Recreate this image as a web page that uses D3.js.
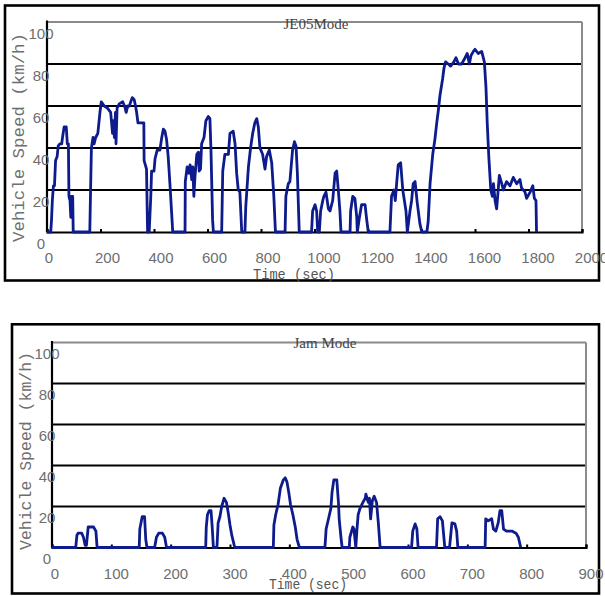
<!DOCTYPE html>
<html>
<head>
<meta charset="utf-8">
<script src="https://cdn.jsdelivr.net/npm/d3@7"></script>
<style>
  html, body { margin: 0; padding: 0; background: #fff; }
  svg { display: block; }
</style>
</head>
<body>
<script>
// ---------------- DATA ----------------
const speedTicks = [0, 20, 40, 60, 80, 100];
const je05TimeTicks = [0, 200, 400, 600, 800, 1000, 1200, 1400, 1600, 1800, 2000];
const jamTimeTicks = [0, 100, 200, 300, 400, 500, 600, 700, 800, 900];

// JE05 mode: time (s) and speed (km/h)
const je05Time = [0,14,17,20,24,28,32,38,42,48,55,58,64,72,76,80,82,86,89,91,96,98,
  160,162,166,172,176,182,190,198,203,214,226,238,245,248,252,256,258,262,270,283,290,296,302,308,313,319,326,331,335,340,357,362,363,372,376,
  382,388,391,400,404,412,422,429,435,441,447,453,460,466,470,
  516,517,524,530,535,541,545,549,553,560,566,569,574,578,587,594,603,609,613,619,622,
  653,657,665,678,684,696,703,709,715,721,728,
  740,743,753,761,769,777,784,790,796,806,815,821,831,840,848,854,
  890,893,902,908,918,925,931,936,943,
  989,993,1002,1008,1012,1018,1023,1031,1035,1043,1052,1058,1068,1077,1083,1089,1095,1099,
  1133,1135,1143,1151,1158,1160,1168,1176,1189,1195,1201,
  1282,1288,1297,1302,1307,1313,1322,1330,1342,1347,1357,1363,1369,1376,1384,1394,1401,
  1420,1425,1432,1442,1450,1457,1463,1469,1479,1484,1490,1500,1509,1521,1529,1538,1550,1563,1571,1579,1585,1594,1600,1612,1625,1635,1641,1646,1652,1659,1665,1669,1675,1681,1691,1700,1706,1718,1731,1743,1756,1768,1774,1787,1793,1806,1816,1822,1828,1830];
const je05Speed = [0,0,6,15,22,22,34,36,41,42,42,45,50,50,42,42,17,15,7,17,17,0,
  0,14,40,45,42,45,47,57,62,60,59,57,47,53,45,57,42,59,61,62,60,57,60,60,62,64,63,60,57,52,52,52,34,30,0,
  0,17,29,29,35,39,39,45,49,48,44,36,22,9,0,
  0,24,31,28,32,25,31,17,26,37,38,29,30,42,45,53,55,54,39,6,0,
  0,29,37,37,47,48,42,28,20,19,0,
  0,12,31,40,47,52,54,50,40,37,30,36,39,33,17,0,
  0,17,23,24,39,43,41,28,0,
  0,10,13,10,0,0,10,15,17,19,11,10,15,28,29,20,10,0,
  0,10,17,16,7,0,7,13,13,6,0,
  0,17,20,15,23,32,33,20,10,0,10,15,23,24,14,4,0,
  0,5,23,37,44,52,58,65,73,78,81,80,79,81,83,80,80,83,85,80,84,86,87,85,86,81,69,51,35,20,17,23,15,11,27,23,20,24,22,26,23,25,21,19,16,19,22,16,15,0];

// Jam mode: time (s) and speed (km/h)
const jamTime = [0,40,42,44,50,53,56,58,61,70,74,76,
  147,148,152,156,158,160,
  173,176,180,186,190,193,
  259,260,262,265,268,270,272,
  278,280,283,286,290,294,297,300,303,308,
  373,374,377,381,385,390,393,396,399,402,406,410,413,417,
  460,462,466,470,472,475,480,483,484,487,489,
  501,502,507,509,511,512,514,516,519,524,528,529,533,535,537,540,543,547,550,553,
  606,608,612,615,617,
  648,650,654,658,662,
  670,674,679,682,684,
  730,731,735,741,744,748,752,755,758,761,766,775,782,786,790];
const jamSpeed = [0,0,6,7,7,5,1,1,10,10,8,0,
  0,9,15,15,4,0,
  0,5,7,7,5,0,
  0,10,16,18,18,10,0,
  0,12,15,20,24,22,17,11,6,0,
  0,11,16,21,29,33,34,32,27,21,16,10,4,0,
  0,9,14,19,27,33,33,21,14,5,0,
  0,5,10,9,3,0,9,16,19,22,24,26,22,24,14,23,25,22,12,0,
  0,8,11.5,9,0,
  0,14,15,13,0,
  0,12,11.5,8,0,
  0,14,13,14,9,8,12,18,18,9,8,8,7,5,0];

// ---------------- DRAWING ----------------
const W = 605, H = 596;
const svg = d3.select("body").append("svg").attr("width", W).attr("height", H);

const lineColor = "#0d1b8c";
const tickFont = "'Liberation Sans', Arial, sans-serif";
const monoFont = "'Liberation Mono', 'DejaVu Sans Mono', monospace";
const serifFont = "'Liberation Serif', 'Times New Roman', serif";

function drawPanel(p) {
  const g = svg.append("g");
  // outer frame
  g.append("rect")
    .attr("x", p.frame[0]).attr("y", p.frame[1])
    .attr("width", p.frame[2] - p.frame[0]).attr("height", p.frame[3] - p.frame[1])
    .attr("fill", "none").attr("stroke", "#000").attr("stroke-width", 2.6);

  const x = d3.scaleLinear().domain([0, p.xMax]).range([p.left, p.right]);
  const y = d3.scaleLinear().domain([0, 100]).range([p.bottom, p.top]);

  // horizontal gridlines
  g.selectAll(".grid").data(speedTicks.filter(d => d > 0)).enter().append("line")
    .attr("x1", p.left).attr("x2", p.right)
    .attr("y1", d => y(d)).attr("y2", d => y(d))
    .attr("stroke", d => d === 100 ? "#8a8a8a" : "#000")
    .attr("stroke-width", 2);
  // right edge (gray)
  g.append("line").attr("x1", p.right).attr("x2", p.right)
    .attr("y1", y(100)).attr("y2", y(0)).attr("stroke", "#8a8a8a").attr("stroke-width", 2);

  // x axis baseline with upward ticks
  const xAxis = d3.axisTop(x).tickValues(p.xTicks).tickSize(3).tickFormat("");
  const xa = g.append("g").attr("transform", `translate(0,${y(0)})`).call(xAxis);
  xa.select(".domain").attr("stroke", "#000").attr("stroke-width", 2.2);
  xa.selectAll(".tick line").attr("stroke", "#000").attr("stroke-width", 2);

  // y axis line
  g.append("line").attr("x1", p.left).attr("x2", p.left)
    .attr("y1", y(100) - 1.5).attr("y2", y(0)).attr("stroke", "#000").attr("stroke-width", 2.2);

  // data line
  const line = d3.line().x(i => x(p.t[i])).y(i => y(p.v[i]));
  g.append("path").datum(d3.range(p.t.length)).attr("d", line)
    .attr("fill", "none").attr("stroke", lineColor).attr("stroke-width", 2.8)
    .attr("stroke-linejoin", "round");

  // y tick labels
  g.selectAll(".ylab").data(speedTicks).enter().append("text")
    .attr("x", p.yLabX).attr("y", d => y(d) + p.yLabDy)
    .attr("text-anchor", "middle").attr("dominant-baseline", "central")
    .attr("font-family", tickFont).attr("font-size", 15).attr("fill", "#6e6e6e")
    .text(d => d);

  // x tick labels
  g.selectAll(".xlab").data(p.xTicks).enter().append("text")
    .attr("x", d => x(d) + p.xLabOff(String(d).length)).attr("y", p.xLabY)
    .attr("text-anchor", "middle").attr("dominant-baseline", "central")
    .attr("font-family", tickFont).attr("font-size", 15).attr("fill", "#6e6e6e")
    .text(d => d);

  // title
  g.append("text").attr("x", p.title[1]).attr("y", p.title[2])
    .attr("text-anchor", "middle").attr("dominant-baseline", "central")
    .attr("font-family", serifFont).attr("font-size", 15).attr("fill", "#444")
    .text(p.title[0]);

  // x axis title
  g.append("text").attr("x", p.xTitle[0]).attr("y", p.xTitle[1])
    .attr("text-anchor", "middle").attr("dominant-baseline", "central")
    .attr("font-family", monoFont).attr("font-size", 14).attr("fill", "#555")
    .attr("textLength", p.xTitle[2]).attr("lengthAdjust", "spacingAndGlyphs")
    .text("Time (sec)");

  // y axis title
  g.append("text")
    .attr("transform", `translate(${p.yTitle[0]},${p.yTitle[1]}) rotate(-90)`)
    .attr("text-anchor", "middle").attr("dominant-baseline", "central")
    .attr("font-family", monoFont).attr("font-size", 16).attr("fill", "#6e6e6e")
    .attr("textLength", p.yTitle[2]).attr("lengthAdjust", "spacingAndGlyphs")
    .text("Vehicle Speed (km/h)");
}

drawPanel({
  frame: [5, 5.5, 599, 280.5],
  left: 47, right: 582, top: 22, bottom: 232,
  xMax: 2000, xTicks: je05TimeTicks,
  t: je05Time, v: je05Speed,
  yLabX: 41, yLabDy: 11,
  xLabY: 257, xLabOff: n => 2 + (n - 1) * 2.5,
  title: ["JE05Mode", 316, 24],
  xTitle: [294, 275, 82],
  yTitle: [20, 137.5, 209]
});

drawPanel({
  frame: [12, 324.3, 599, 593.5],
  left: 52, right: 586, top: 342.5, bottom: 547.5,
  xMax: 900, xTicks: jamTimeTicks,
  t: jamTime, v: jamSpeed,
  yLabX: 47, yLabDy: 11,
  xLabY: 573, xLabOff: n => 3 + (n - 1) * 1,
  title: ["Jam Mode", 325, 343],
  xTitle: [308, 585, 78],
  yTitle: [27, 451, 198]
});
</script>
</body>
</html>
